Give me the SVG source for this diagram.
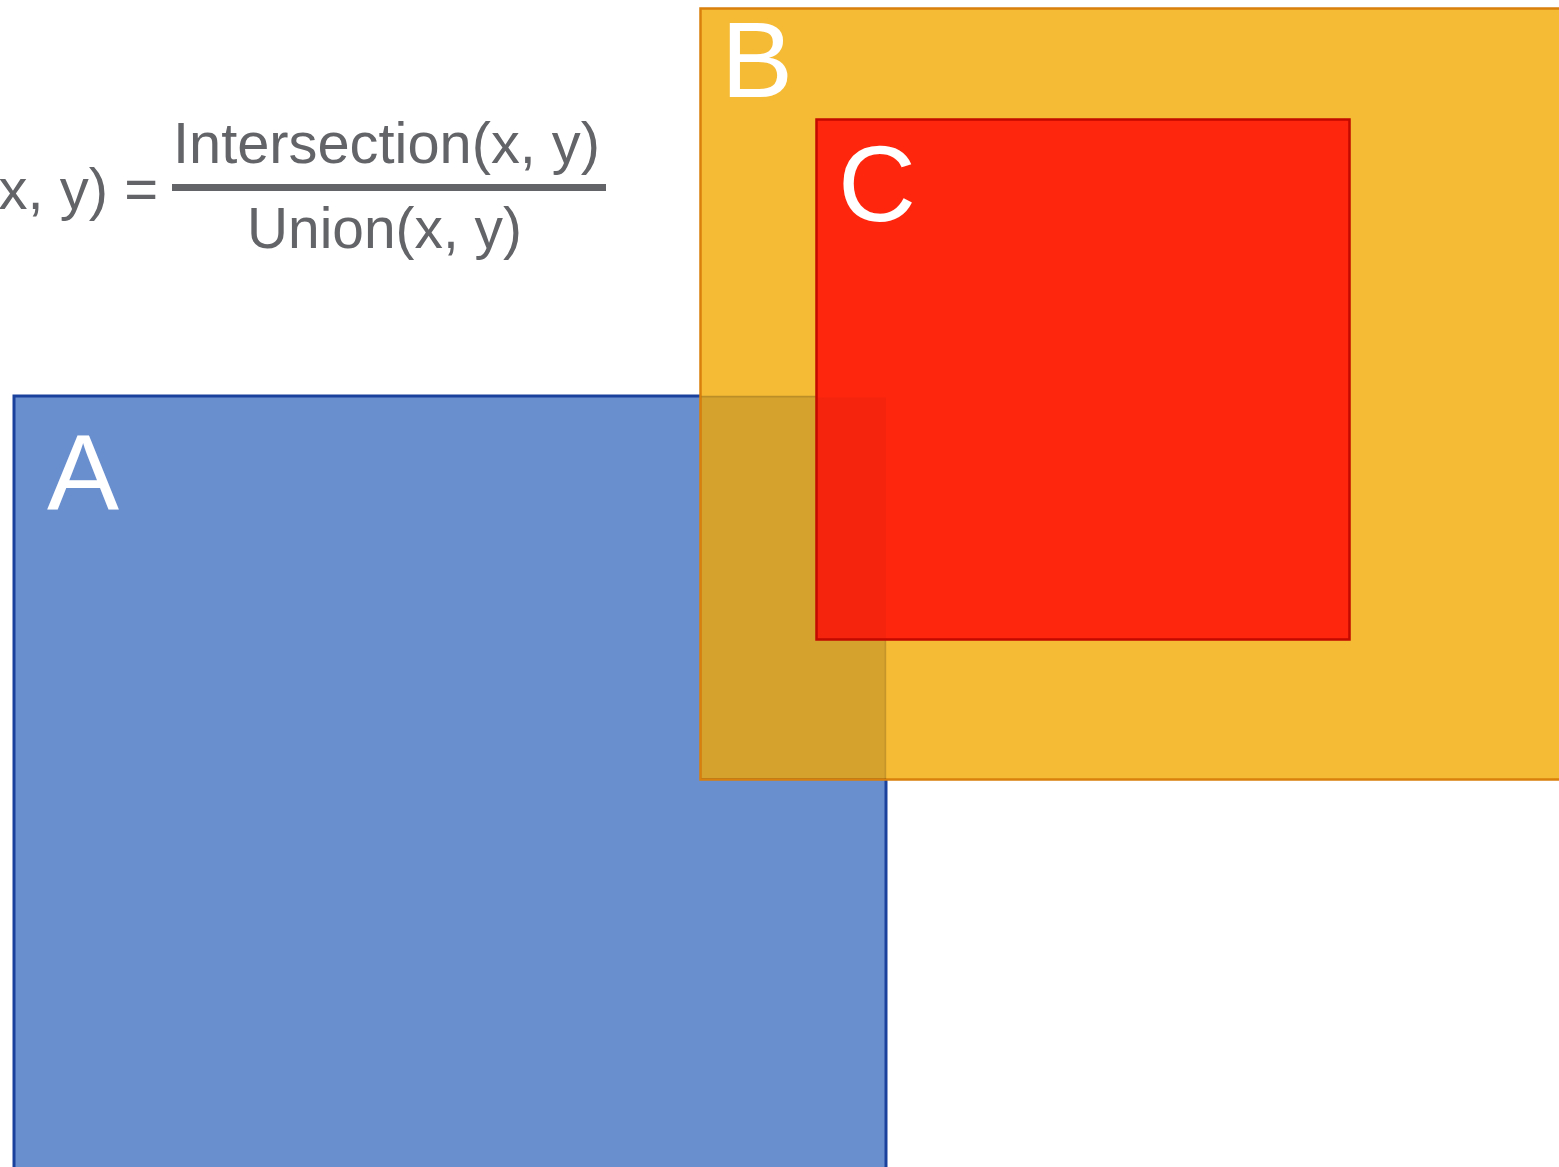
<svg xmlns="http://www.w3.org/2000/svg" width="1559" height="1167" viewBox="0 0 1559 1167">
  <style>
    .label { font-family: "Liberation Sans", Arial, sans-serif; fill: #ffffff; font-size: 108px; }
    .formula { font-family: "Liberation Sans", Arial, sans-serif; fill: #636468; font-size: 58px; }
  </style>
  <rect x="0" y="0" width="1559" height="1167" fill="#ffffff"/>

  <!-- IoU formula -->
  <g id="formula">
    <text class="formula" x="158" y="209" text-anchor="end">x, y) =</text>
    <text class="formula" x="173" y="163" textLength="427" lengthAdjust="spacingAndGlyphs">Intersection(x, y)</text>
    <rect x="172" y="184" width="434" height="7" fill="#636468"/>
    <text class="formula" x="247" y="248" textLength="275" lengthAdjust="spacingAndGlyphs">Union(x, y)</text>
  </g>

  <!-- Box A -->
  <g id="A">
    <rect x="14" y="396" width="872" height="790" fill="#6a8fcf" stroke="#1a419c" stroke-width="3"/>
    <text class="label" x="47" y="510">A</text>
  </g>

  <!-- Box B -->
  <g id="B">
    <rect x="700.5" y="8.5" width="880" height="771" fill="#f6bb35" stroke="#d9800c" stroke-width="2.5"/>
    <text class="label" x="721" y="97">B</text>
  </g>

  <!-- A ∩ B region, shaded -->
  <g id="AB">
    <rect x="701.5" y="396" width="184.5" height="383" fill="#000000" fill-opacity="0.13"/>
    <line x1="701.5" y1="396.5" x2="886" y2="396.5" stroke="#000000" stroke-opacity="0.12" stroke-width="2"/>
    <line x1="885.5" y1="396" x2="885.5" y2="779" stroke="#000000" stroke-opacity="0.08" stroke-width="2"/>
  </g>

  <!-- Box C -->
  <g id="C">
    <rect x="816.5" y="119.5" width="533" height="520" fill="#ff260e" stroke="#c20a00" stroke-width="2.5"/>
    <text class="label" x="838" y="221">C</text>
    <rect x="817.5" y="397.5" width="68.5" height="241" fill="#000000" fill-opacity="0.04"/>
  </g>
</svg>
